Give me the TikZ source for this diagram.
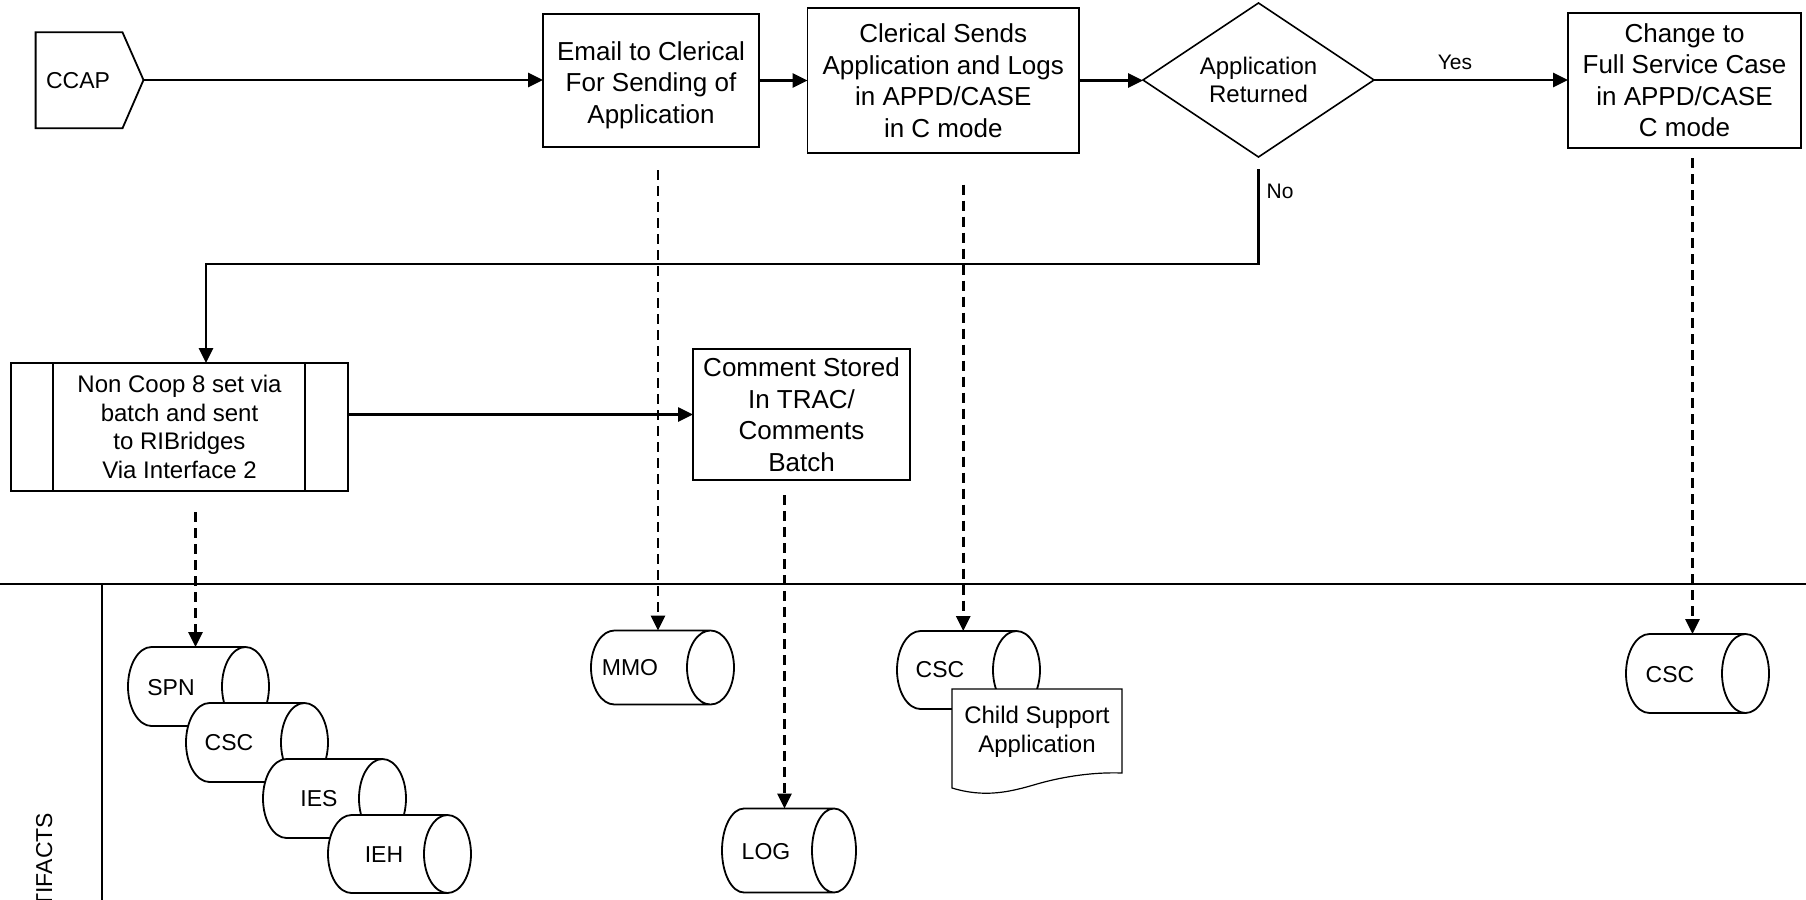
\documentclass[tikz,border=0pt]{standalone}
\usepackage{fontspec}
\setmainfont{Liberation Sans}
\usetikzlibrary{arrows.meta,calc,shapes.geometric}

% outline of a horizontal storage cylinder laid over a (named) rectangular node
\newcommand\drawcyl[2]{%
  \path[cylline] let \p1=(#1.north west), \p2=(#1.south east), \n1={0.5*(\y1-\y2)} in
    (\x1+#2,\y1) arc[start angle=90,end angle=270,x radius=#2,y radius=\n1*1pt]
    -- (\x2-#2,\y2) arc[start angle=-90,end angle=90,x radius=#2,y radius=\n1*1pt]
    -- cycle
    (\x2-#2,\y1) arc[start angle=90,end angle=270,x radius=#2,y radius=\n1*1pt];
}

\begin{document}
\begin{tikzpicture}[x=0.5pt,y=0.5pt,
  every node/.style={inner sep=0pt, outer sep=0pt},
  procbox/.style={draw, line width=0.9pt, fill=white, align=center,
    font=\fontsize{13}{15.75}\selectfont},
  proctext/.style={align=center, font=\fontsize{13}{15.75}\selectfont},
  smallbox/.style={procbox, font=\fontsize{12}{14.3}\selectfont},
  decision/.style={diamond, aspect=1.5, draw, line width=0.8pt, align=center,
    font=\fontsize{12}{14.3}\selectfont},
  flow/.style={line width=1.3pt, -{Triangle[length=7.5pt,width=7pt]}},
  dep/.style={flow, line width=1.4pt, dash pattern=on 5pt off 3pt},
  cylline/.style={draw, fill=white, line width=0.9pt},
  cylbody/.style={minimum width=71.5pt, minimum height=39.5pt},
  cyltext/.style={font=\fontsize{11.5}{13}\selectfont},
  edgelbl/.style={font=\fontsize{10.5}{12}\selectfont},
  doctext/.style={align=center, font=\fontsize{12}{14.3}\selectfont},
]
\useasboundingbox (0,0) rectangle (1806,-900);

% ---------- lane frame ----------
\draw[line width=1pt] (0,-584) -- (1806,-584);
\draw[line width=1pt] (102,-584) -- (102,-900);
\node[rotate=90, anchor=base east, font=\fontsize{11.5}{13}\selectfont] (lane) at (52,-813) {ARTIFACTS};

% ---------- top process row ----------
\coordinate (ccaptip) at (143.5,-80);
\draw[line width=0.9pt] (35.6,-32.3) -- (122.5,-32.3) -- (ccaptip) -- (122.5,-128.3) -- (35.6,-128.3) -- cycle;
\node[cyltext] (ccap) at (78,-81) {CCAP};

\node[procbox, minimum width=108pt, minimum height=66.5pt] (email) at (651,-80.5) {};
\node[proctext] (emailtext) at ([yshift=-2.3pt]email.center)
  {Email to Clerical\\For Sending of\\Application};
\node[procbox, minimum width=135.75pt, minimum height=72.2pt] (clerical) at (943.25,-80.5)
  {Clerical Sends\\Application and Logs\\in APPD/CASE\\in C mode};
\node[decision, minimum width=115.5pt, minimum height=77pt] (dec) at (1258.5,-80)
  {Application\\Returned};
\node[procbox, minimum width=116.5pt, minimum height=67.7pt] (change) at (1684.5,-80.3)
  {Change to\\Full Service Case\\in APPD/CASE\\C mode};

% ---------- second row ----------
\node[smallbox, minimum width=168.5pt, minimum height=64pt] (noncoop) at (179.5,-427)
  {Non Coop 8 set via\\batch and sent\\to RIBridges\\Via Interface 2};
\draw[line width=0.9pt] ([xshift=21pt]noncoop.north west) -- ([xshift=21pt]noncoop.south west);
\draw[line width=0.9pt] ([xshift=-21.5pt]noncoop.north east) -- ([xshift=-21.5pt]noncoop.south east);
\node[procbox, minimum width=108.5pt, minimum height=65.5pt] (comment) at (801.5,-414.5)
  {Comment Stored\\In TRAC/\\Comments\\Batch};

% ---------- data stores ----------
\node[cylbody, minimum width=70.5pt] (spn) at (198.5,-686.5) {};
\drawcyl{spn}{11.75pt}
\node[cyltext] (spnlbl) at (171,-688) {SPN};

\node[cylbody, minimum width=71pt] (csca) at (257,-742.5) {};
\drawcyl{csca}{11.75pt}
\node[cyltext] (cscalbl) at (229,-743) {CSC};

\node[cylbody] (ies) at (334.5,-798.5) {};
\drawcyl{ies}{11.75pt}
\node[cyltext] (ieslbl) at (319,-799) {IES};

\node[cylbody, minimum height=39pt] (ieh) at (399.5,-854) {};
\drawcyl{ieh}{11.75pt}
\node[cyltext] (iehlbl) at (384,-855) {IEH};

\node[cylbody, minimum height=37pt] (mmo) at (662.5,-667.5) {};
\drawcyl{mmo}{11.75pt}
\node[cyltext] (mmolbl) at (630,-668) {MMO};

\node[cylbody, minimum width=67pt, minimum height=42pt] (log) at (789,-850.5) {};
\drawcyl{log}{11pt}
\node[cyltext] (loglbl) at (766,-852) {LOG};

\node[cylbody, minimum height=39pt] (cscb) at (968.5,-670) {};
\drawcyl{cscb}{11.75pt}
\node[cyltext] (cscblbl) at (940,-670) {CSC};

\draw[line width=0.6pt, fill=white] (952,-689) -- (1122,-689) -- (1122,-773)
  .. controls (1095,-772) and (1065,-776) .. (1037,-784)
  .. controls (1010,-792) and (985,-798) .. (952,-788) -- cycle;
\node[doctext] (doc) at (1037,-732) {Child Support\\Application};

\node[cylbody] (cscc) at (1697.5,-673.5) {};
\drawcyl{cscc}{11.75pt}
\node[cyltext] (cscclbl) at (1670,-675) {CSC};

% ---------- process flow ----------
\draw[flow] (ccaptip) -- (ccaptip -| email.west);
\draw[flow] (email.east) -- (clerical.west);
\draw[flow] (clerical.east) -- (clerical.east -| dec.west);
\draw[flow] (dec.east) -- (dec.east -| change.west);
\node[edgelbl] (yes) at (1455,-62) {Yes};

\coordinate (nostart) at ([yshift=-6pt]dec.south);
\coordinate (ncin) at ([xshift=13.25pt]noncoop.north);
\draw[flow] (nostart) -- ++(0,-95) -| (ncin);
\node[edgelbl] (no) at (1280,-191) {No};

\draw[flow] (noncoop.east |- comment.west) -- (comment.west);

% ---------- data dependencies ----------
\coordinate (d1) at ([xshift=8pt,yshift=-10.5pt]noncoop.south);
\draw[dep] (d1) -- (d1 |- spn.north);
\coordinate (d2) at ([xshift=3.5pt,yshift=-11.5pt]email.south);
\draw[dep] (d2) -- (d2 |- mmo.north);
\coordinate (d3) at ([xshift=10pt,yshift=-16pt]clerical.south);
\draw[dep] (d3) -- (d3 |- cscb.north);
\coordinate (d4) at ([xshift=4pt,yshift=-5pt]change.south);
\draw[dep] (d4) -- (d4 |- cscc.north);
\coordinate (d5) at ([xshift=-8.5pt,yshift=-7.5pt]comment.south);
\draw[dep] (d5) -- (d5 |- log.north);
\end{tikzpicture}
\end{document}
